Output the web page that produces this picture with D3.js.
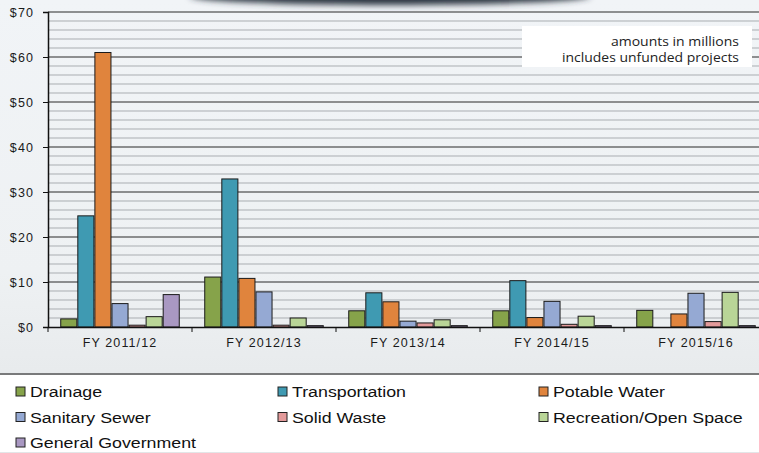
<!DOCTYPE html>
<html>
<head>
<meta charset="utf-8">
<title>Capital Projects by Category</title>
<script src="https://d3js.org/d3.v7.min.js"></script>
<style>
  body { margin: 0; font-family: "Liberation Sans", Arial, sans-serif; }
  svg { display: block; }
</style>
</head>
<body>
<div id="chart"></div>
<script>
// fiscal years and program categories
var years = ["FY 2011/12", "FY 2012/13", "FY 2013/14", "FY 2014/15", "FY 2015/16"];
var categories = ["Drainage", "Transportation", "Potable Water", "Sanitary Sewer",
                  "Solid Waste", "Recreation/Open Space", "General Government"];
var colors = ["#86a34a", "#3f9ab2", "#e0843d", "#95a9d3", "#e39a9a", "#b9d597", "#a998c2"];

// amounts in millions, one array per category (index = fiscal year)
var drainage       = [1.8, 11.1, 3.6, 3.6, 3.7];
var transportation = [24.7, 32.9, 7.6, 10.3, 0];
var potableWater   = [61.0, 10.8, 5.6, 2.1, 2.9];
var sanitarySewer  = [5.2, 7.8, 1.3, 5.7, 7.5];
var solidWaste     = [0.4, 0.4, 0.9, 0.6, 1.2];
var recreation     = [2.3, 2.0, 1.6, 2.4, 7.7];
var generalGov     = [7.2, 0.3, 0.3, 0.3, 0.3];
var series = [drainage, transportation, potableWater, sanitarySewer, solidWaste, recreation, generalGov];

var yTicks = [0, 10, 20, 30, 40, 50, 60, 70];

var w = 759, h = 453;
var svg = d3.select("#chart").append("svg").attr("width", w).attr("height", h);

// background
var defs = svg.append("defs");
var bg = defs.append("linearGradient").attr("id", "bg").attr("x1", 0).attr("y1", 0).attr("x2", 0).attr("y2", 1);
bg.append("stop").attr("offset", "0%").attr("stop-color", "#f1f4f7");
bg.append("stop").attr("offset", "60%").attr("stop-color", "#eef1f3");
bg.append("stop").attr("offset", "100%").attr("stop-color", "#e3e6e8");
svg.append("rect").attr("width", w).attr("height", h).attr("fill", "url(#bg)");

var blur = defs.append("filter").attr("id", "blur").attr("x", "-20%").attr("y", "-100%").attr("width", "140%").attr("height", "300%");
blur.append("feGaussianBlur").attr("stdDeviation", 3);
svg.append("ellipse").attr("cx", 390).attr("cy", -4).attr("rx", 200).attr("ry", 9)
    .attr("fill", "#2a3440").attr("filter", "url(#blur)");

var x0 = d3.scaleBand().domain(years).range([48, 768]).paddingInner(0.17).paddingOuter(0.085);
var x1 = d3.scaleBand().domain(d3.range(categories.length)).range([0, x0.bandwidth()]);
var y = d3.scaleLinear().domain([0, 70]).range([327, 12]);

// minor grid every $2
svg.append("g").selectAll("line").data(d3.range(2, 70, 2).filter(function(v) { return v % 10 !== 0; }))
  .enter().append("line")
    .attr("x1", 48).attr("x2", w).attr("y1", function(d) { return y(d); }).attr("y2", function(d) { return y(d); })
    .attr("stroke", "#a9adb1").attr("stroke-width", 1);

// major grid
svg.append("g").selectAll("line").data(yTicks.slice(1))
  .enter().append("line")
    .attr("x1", 48).attr("x2", w).attr("y1", function(d) { return y(d); }).attr("y2", function(d) { return y(d); })
    .attr("stroke", "#2b2b2b").attr("stroke-width", 1.2);

// note box
svg.append("rect").attr("x", 522).attr("y", 26).attr("width", 230).attr("height", 41).attr("fill", "#fff");
svg.append("text").attr("x", 739).attr("y", 46).attr("text-anchor", "end")
    .attr("textLength", 128).attr("lengthAdjust", "spacingAndGlyphs")
    .style("font-family", "'Open Sans', sans-serif")
    .style("font-size", "12.5px").attr("fill", "#222").text("amounts in millions");
svg.append("text").attr("x", 739).attr("y", 62).attr("text-anchor", "end")
    .attr("textLength", 177).attr("lengthAdjust", "spacingAndGlyphs")
    .style("font-family", "'Open Sans', sans-serif")
    .style("font-size", "12.5px").attr("fill", "#222").text("includes unfunded  projects");

// bars
var groups = svg.append("g").selectAll("g").data(years).enter().append("g")
    .attr("transform", function(d) { return "translate(" + x0(d) + ",0)"; });
groups.selectAll("rect")
  .data(function(d, i) { return series.map(function(s, j) { return { k: j, v: s[i] }; }); })
  .enter().append("rect")
    .attr("x", function(d) { return x1(d.k) + 0.5; })
    .attr("width", x1.bandwidth() - 1)
    .attr("y", function(d) { return y(d.v); })
    .attr("height", function(d) { return y(0) - y(d.v); })
    .attr("fill", function(d) { return colors[d.k]; })
    .attr("stroke", "#1a1a1a").attr("stroke-width", 1);

// axes
var yAxis = svg.append("g").attr("transform", "translate(48,0)")
    .call(d3.axisLeft(y).tickValues(yTicks).tickSize(5).tickPadding(9).tickFormat(function(d) { return "$" + d; }));
var xAxis = svg.append("g").attr("transform", "translate(0,327)")
    .call(d3.axisBottom(x0).tickSize(0).tickPadding(11));
// category separators
svg.append("g").selectAll("line").data(years).enter().append("line")
    .attr("x1", function(d) { return x0(d) - x0.step() * x0.paddingInner() / 2; })
    .attr("x2", function(d) { return x0(d) - x0.step() * x0.paddingInner() / 2; })
    .attr("y1", 327).attr("y2", 332).attr("stroke", "#111");

[yAxis, xAxis].forEach(function(a) {
  a.select(".domain").attr("stroke", "#111").attr("stroke-width", 1.5);
  a.selectAll(".tick line").attr("stroke", "#111");
  a.selectAll("text").style("font-family", "Liberation Sans, Arial, sans-serif")
    .style("font-size", "12.5px").style("letter-spacing", "1.1px").attr("fill", "#1a1a1a");
});

// legend
svg.append("line").attr("x1", 0).attr("x2", w).attr("y1", 374).attr("y2", 374).attr("stroke", "#555").attr("stroke-width", 1.5);
svg.append("rect").attr("x", 0).attr("y", 375).attr("width", w).attr("height", 77).attr("fill", "#fff");
var colX = [16, 278, 539];
var leg = svg.append("g").selectAll("g").data(categories).enter().append("g")
    .attr("transform", function(d, i) { return "translate(" + colX[i % 3] + "," + (397 + Math.floor(i / 3) * 25.5) + ")"; });
leg.append("rect").attr("x", 0).attr("y", -10).attr("width", 9).attr("height", 9)
    .attr("fill", function(d, i) { return colors[i]; }).attr("stroke", "#222").attr("stroke-width", 1);
leg.append("text").attr("transform", "translate(14,0) scale(1.27,1)")
    .style("font-size", "14px").attr("fill", "#111").text(function(d) { return d; });
</script>
</body>
</html>
